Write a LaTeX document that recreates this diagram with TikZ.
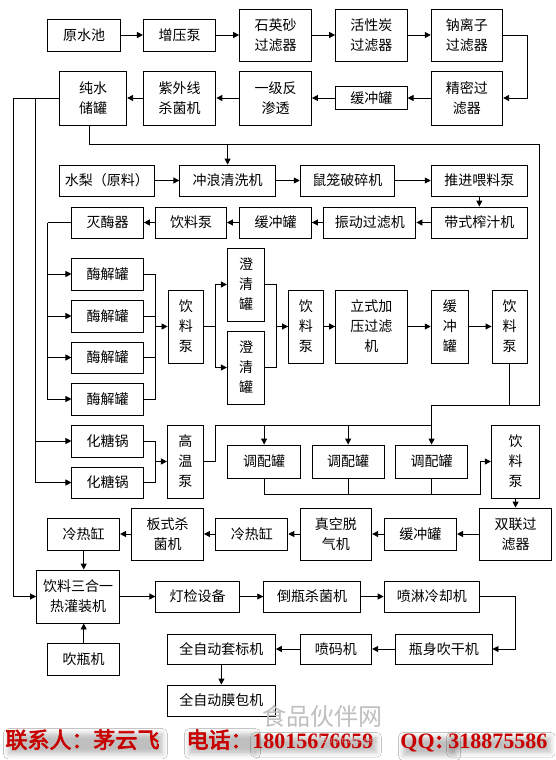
\documentclass[tikz,border=0pt]{standalone}
\usepackage{fontspec}
\newfontfamily\cjk{Noto Sans CJK SC}
\newfontfamily\cjkbold{Noto Sans CJK SC}[FakeBold=3]
\newfontfamily\dig{Liberation Serif}
\usetikzlibrary{arrows.meta,shadows.blur}
\definecolor{footred}{RGB}{200,0,0}
\tikzset{
  box/.style={draw,line width=0.9pt,inner sep=0pt,align=center,font=\cjk\fontsize{14}{20}\selectfont},
  arr/.style={-{Triangle[length=6pt,width=6pt]}},
  foot/.style={anchor=base west,inner xsep=0pt,inner ysep=0pt,text=footred,
    blur shadow={shadow xshift=3pt,shadow yshift=-4pt,shadow blur radius=5pt,shadow opacity=25}},
  wm/.style={anchor=base west,inner sep=0pt,text=black!25}
}
\newcommand\mybox[6]{\node[box,minimum width={(#4)-(#2)},minimum height={(#5)-(#3)}] (#1) at ({((#2)+(#4))/2},{((#3)+(#5))/2}) {#6};}
\begin{document}
\begin{tikzpicture}[x=1pt,y=-1pt,line width=0.9pt]
\useasboundingbox[fill=white] (0,0) rectangle (555,760);
% row 1
\mybox{ys}{47.8}{19}{120.4}{51}{原水池}
\mybox{zy}{143.4}{19}{215.9}{51}{增压泵}
\mybox{sy}{239.6}{9}{311.5}{61}{石英砂\\过滤器}
\mybox{hx}{335.6}{9}{407.1}{61}{活性炭\\过滤器}
\mybox{nl}{431.2}{9}{502.7}{61}{钠离子\\过滤器}
% row 2
\mybox{jm}{431.2}{71}{502.7}{125}{精密过\\滤器}
\mybox{hc1}{335.6}{86.5}{407.1}{109.5}{缓冲罐}
\mybox{yj}{239.6}{71}{311.5}{125}{一级反\\渗透}
\mybox{zw}{143.4}{71}{215.9}{125}{紫外线\\杀菌机}
\mybox{cs}{59.5}{71}{126.7}{125}{纯水\\储罐}
% row 3
\mybox{sl}{59.5}{165}{154}{196}{水梨（原料）}
\mybox{cl}{179.8}{165}{275.4}{196}{冲浪清洗机}
\mybox{sl2}{300.2}{165}{394.7}{196}{鼠笼破碎机}
\mybox{tj}{431.2}{165}{527.4}{196}{推进喂料泵}
% row 4
\mybox{dz}{431.2}{207}{527.4}{238}{带式榨汁机}
\mybox{zd}{323.9}{207}{415.9}{238}{振动过滤机}
\mybox{hc2}{239.6}{207}{311.5}{238}{缓冲罐}
\mybox{yl1}{155.8}{207}{226.5}{238}{饮料泵}
\mybox{mm}{71.9}{207}{143.4}{238}{灭酶器}
% enzyme block
\mybox{mj1}{71.9}{258}{143.4}{290}{酶解罐}
\mybox{mj2}{71.9}{300}{143.4}{332}{酶解罐}
\mybox{mj3}{71.9}{342}{143.4}{373}{酶解罐}
\mybox{mj4}{71.9}{383}{143.4}{415}{酶解罐}
\mybox{yb1}{168.1}{290}{203.5}{363}{饮\\料\\泵}
\mybox{cq1}{227.3}{248}{264.8}{321}{澄\\清\\罐}
\mybox{cq2}{227.3}{331}{264.8}{404}{澄\\清\\罐}
\mybox{yb2}{288.5}{290}{323.2}{363}{饮\\料\\泵}
\mybox{lsj}{335.6}{290}{407.1}{363}{立式加\\压过滤\\机}
\mybox{hc3}{431.2}{290}{468.3}{363}{缓\\冲\\罐}
\mybox{yb3}{492}{290}{527.4}{363}{饮\\料\\泵}
% sugar block
\mybox{ht1}{71.9}{425}{143.4}{457}{化糖锅}
\mybox{ht2}{71.9}{467}{143.4}{498}{化糖锅}
\mybox{gw}{167.4}{425}{203.5}{498}{高\\温\\泵}
\mybox{tp1}{227.3}{445}{300.9}{478}{调配罐}
\mybox{tp2}{312.2}{445}{384.1}{478}{调配罐}
\mybox{tp3}{395.8}{445}{467.3}{478}{调配罐}
\mybox{yb4}{491.3}{425}{539.8}{498}{饮\\料\\泵}
% row 6
\mybox{sl3}{479.6}{508}{551.5}{560}{双联过\\滤器}
\mybox{hc4}{384.1}{518}{456.6}{550}{缓冲罐}
\mybox{zk}{300.2}{508}{371.7}{560}{真空脱\\气机}
\mybox{lr1}{215.9}{518}{287.8}{550}{冷热缸}
\mybox{bs}{131.7}{508}{203.5}{560}{板式杀\\菌机}
\mybox{lr2}{47.8}{518}{119.6}{550}{冷热缸}
% bottom
\mybox{gz}{36.5}{570}{119.6}{623}{饮料三合一\\热灌装机}
\mybox{dj}{155.8}{581}{239.6}{612}{灯检设备}
\mybox{dp}{263.7}{581}{360.4}{612}{倒瓶杀菌机}
\mybox{pl}{384.1}{581}{479.6}{612}{喷淋冷却机}
\mybox{ps}{395.8}{634}{492}{664}{瓶身吹干机}
\mybox{pm}{300.2}{634}{371.7}{664}{喷码机}
\mybox{tb}{167.4}{634}{275.4}{664}{全自动套标机}
\mybox{cp}{47.8}{643}{119.6}{675}{吹瓶机}
\mybox{mb}{167.4}{685}{275.4}{716}{全自动膜包机}

% connectors row 1/2
\draw[arr] (ys) -- (zy);
\draw[arr] (zy) -- (sy);
\draw[arr] (sy) -- (hx);
\draw[arr] (hx) -- (nl);
\draw[arr] (nl.east) -- ++(24.7,0) |- (jm.east);
\draw[arr] (jm) -- (hc1);
\draw[arr] (hc1) -- (yj);
\draw[arr] (yj) -- (zw);
\draw[arr] (zw) -- (cs);
% water distribution
\coordinate (wl) at (13.1,98);
\coordinate (wl2) at (35.4,98);
\draw (cs.west) -- (wl);
\draw[arr] (wl) |- (gz.west);
\draw[arr] (wl2) |- (ht2.west);
\draw[arr] (wl2 |- ht1.west) -- (ht1.west);
\coordinate (j1) at (539.8,144);
\coordinate (j2) at (539.8,405);
\coordinate (j3) at (431.2,405);
\coordinate (j4) at (431.2,425);
\coordinate (j5) at (215.9,425);
\draw ([xshift=-3.5pt]cs.south) |- (j1) -- (j2) -- (j3) -- (j4);
\draw[arr] (cl.north |- j1) -- (cl.north);
% row 3/4
\draw[arr] (sl) -- (cl);
\draw[arr] (cl) -- (sl2);
\draw[arr] (sl2) -- (tj);
\draw[arr] (tj) -- (dz);
\draw[arr] (dz) -- (zd);
\draw[arr] (zd) -- (hc2);
\draw[arr] (hc2) -- (yl1);
\draw[arr] (yl1) -- (mm);
% enzyme
\coordinate (k1) at (47.8,222.5);
\draw (mm.west) -- (k1);
\draw[arr] (k1) |- (mj4.west);
\draw[arr] (k1 |- mj1.west) -- (mj1.west);
\draw[arr] (k1 |- mj2.west) -- (mj2.west);
\draw[arr] (k1 |- mj3.west) -- (mj3.west);
\coordinate (m1) at (155.8,326.5);
\draw (mj1.east) -| (m1);
\draw (mj4.east) -| (m1);
\draw (mj2.east) -- (mj2.east -| m1);
\draw (mj3.east) -- (mj3.east -| m1);
\draw[arr] (m1) -- (yb1.west);
\coordinate (c1) at (215.2,326.5);
\draw (yb1.east) -- (c1);
\draw[arr] (c1) |- (cq1.west);
\draw[arr] (c1) |- (cq2.west);
\coordinate (c2) at (276.1,326.5);
\draw (cq1.east) -| (c2);
\draw (cq2.east) -| (c2);
\draw[arr] (c2) -- (yb2.west);
\draw[arr] (yb2) -- (lsj);
\draw[arr] (lsj) -- (hc3);
\draw[arr] (hc3) -- (yb3);
\draw (yb3.south) -- (yb3.south |- j2);
% sugar
\coordinate (h1) at (155.8,461.5);
\draw (ht1.east) -| (h1);
\draw (ht2.east) -| (h1);
\draw[arr] (h1) -- (gw.west);
\draw (gw.east) -| (j5) -- (j4);
\draw[arr] (tp1.north |- j4) -- (tp1.north);
\draw[arr] (tp2.north |- j4) -- (tp2.north);
\draw[arr] (tp3.north |- j4) -- (tp3.north);
\coordinate (t1) at (480.7,494);
\draw (tp1.south) |- (t1);
\draw (tp2.south) -- (tp2.south |- t1);
\draw (tp3.south) -- (tp3.south |- t1);
\draw[arr] (t1) |- (yb4.west);
\draw[arr] (yb4) -- (sl3);
% row 6
\draw[arr] (sl3) -- (hc4);
\draw[arr] (hc4) -- (zk);
\draw[arr] (zk) -- (lr1);
\draw[arr] (lr1) -- (bs);
\draw[arr] (bs) -- (lr2);
\draw[arr] (lr2.south) -- (lr2.south |- gz.north);
\draw[arr] (cp.north) -- (cp.north |- gz.south);
% bottom
\draw[arr] (gz) -- (dj);
\draw[arr] (dj) -- (dp);
\draw[arr] (dp) -- (pl);
\draw[arr] (pl.east) -- ++(35.4,0) |- (ps.east);
\draw[arr] (ps) -- (pm);
\draw[arr] (pm) -- (tb);
\draw[arr] (tb) -- (mb);
% watermark
\node[wm,font=\cjk\fontsize{24}{24}\selectfont] (wm1) at (262,725) {食品伙伴网};
% footer
\node[foot] (fa) at (5,748) {\cjkbold\fontsize{22}{22}\selectfont 联系人：茅云飞};
\node[foot] (fb) at (186,748) {\cjkbold\fontsize{22}{22}\selectfont 电话：};
\node[foot] (fc) at (252,748) {\dig\bfseries\fontsize{22}{22}\selectfont 18015676659};
\node[foot] (fd) at (400,748) {\dig\bfseries\fontsize{22}{22}\selectfont QQ\cjkbold\fontsize{18}{18}\selectfont ：};
\node[foot] (ff) at (448,748) {\dig\bfseries\fontsize{22}{22}\selectfont 318875586};
\node[wm,font=\sffamily\fontsize{11}{11}\selectfont,opacity=0.7] (wm2) at (318,743) {foodmate.net};
\end{tikzpicture}
\end{document}
